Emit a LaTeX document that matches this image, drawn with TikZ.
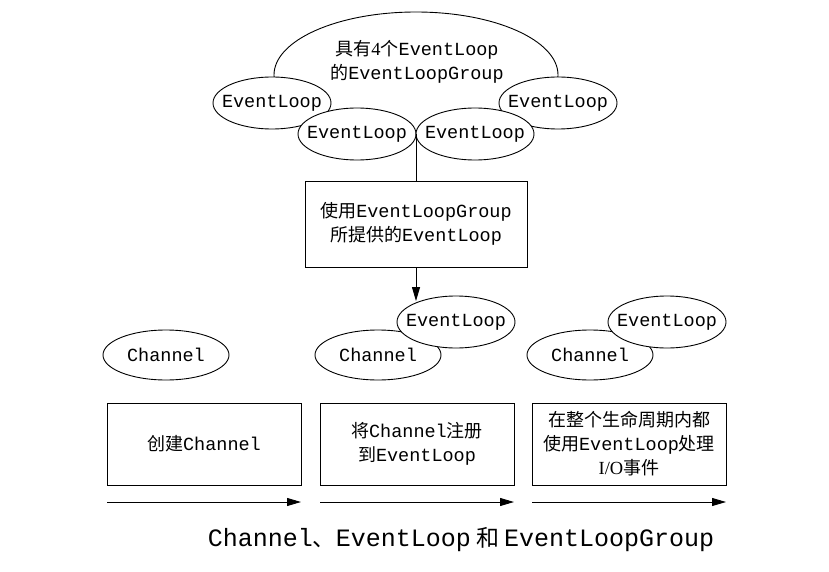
\documentclass[tikz,border=0pt]{standalone}
\usepackage{fontspec}
\setmainfont{Liberation Serif}
\setmonofont{Liberation Mono}
\newfontfamily\cjk{Noto Sans CJK SC}
\usetikzlibrary{shapes.geometric,arrows.meta}
\newcommand\zh[1]{{\cjk\fontsize{18}{24}\selectfont #1}}
\newcommand\romn[1]{{\rmfamily #1}}
\newcommand\nb[1]{\makebox[0pt]{#1}}
\begin{document}
\begin{tikzpicture}[x=1pt,y=-1pt,
  every node/.style={font=\ttfamily\fontsize{18.5}{24}\selectfont},
  ell/.style={ellipse, draw, fill=white, inner sep=0pt, minimum width=118pt, minimum height=52pt},
  chan/.style={ellipse, draw, fill=white, inner sep=0pt, minimum width=126pt, minimum height=50pt},
  stagebox/.style={draw, minimum width=194pt, minimum height=82pt, align=center, inner sep=0pt},
  arr/.style={-{Triangle[length=14pt,width=8pt]}, line width=0.9pt},
  line width=0.9pt]
\useasboundingbox (0,0) rectangle (829,572);
% group
\node[ellipse, draw, fill=white, inner sep=0pt, minimum width=284pt, minimum height=126pt] (grp) at (416,75) {};
\node[align=center] (grptext) at (417,62) {\zh{具有}\romn{4}\zh{个}EventLoop\\\zh{的}EventLoopGroup};
\node[ell] (e1) at (272,103) {\nb{EventLoop}};
\node[ell] (e4) at (558,103) {\nb{EventLoop}};
\node[ell] (e2) at (357,134) {\nb{EventLoop}};
\node[ell] (e3) at (475,134) {\nb{EventLoop}};
% box
\node[draw, minimum width=222pt, minimum height=86pt, align=center, inner sep=0pt] (use) at (416,224) {\zh{使用}EventLoopGroup\\\zh{所提供的}EventLoop};
\draw (e2.east) -- (e2.east |- use.north);
% stage 1
\node[chan] (c1) at (166,355) {\nb{Channel}};
% stage 2
\node[chan] (c2) at (378,355) {\nb{Channel}};
\node[ell] (l2) at (456,322) {\nb{EventLoop}};
% stage 3
\node[chan] (c3) at (590,355) {\nb{Channel}};
\node[ell] (l3) at (667,322) {\nb{EventLoop}};
\draw[arr] (use.south) -- (use.south |- l2.150);
% boxes
\node[stagebox] (b1) at (204,444) {\zh{创建}Channel};
\node[stagebox] (b2) at (417,444) {\zh{将}Channel\zh{注册}\\\zh{到}EventLoop};
\node[stagebox] (b3) at (629,444) {\zh{在整个生命周期内都}\\\zh{使用}EventLoop\zh{处理}\\\romn{I/O}\zh{事件}};
% arrows
\coordinate (a1s) at (107,502); \coordinate (a1e) at (301,502);
\coordinate (a2s) at (320,502); \coordinate (a2e) at (514,502);
\coordinate (a3s) at (532,502); \coordinate (a3e) at (726,502);
\draw[arr] (a1s) -- (a1e);
\draw[arr] (a2s) -- (a2e);
\draw[arr] (a3s) -- (a3e);
% caption
\node[font=\ttfamily\fontsize{25}{28}\selectfont] (cap) at (461,540) {Channel{\cjk\fontsize{23}{28}\selectfont 、}EventLoop\hspace{5pt}{\cjk\fontsize{23}{28}\selectfont 和}\hspace{5pt}EventLoopGroup};
\end{tikzpicture}
\end{document}
